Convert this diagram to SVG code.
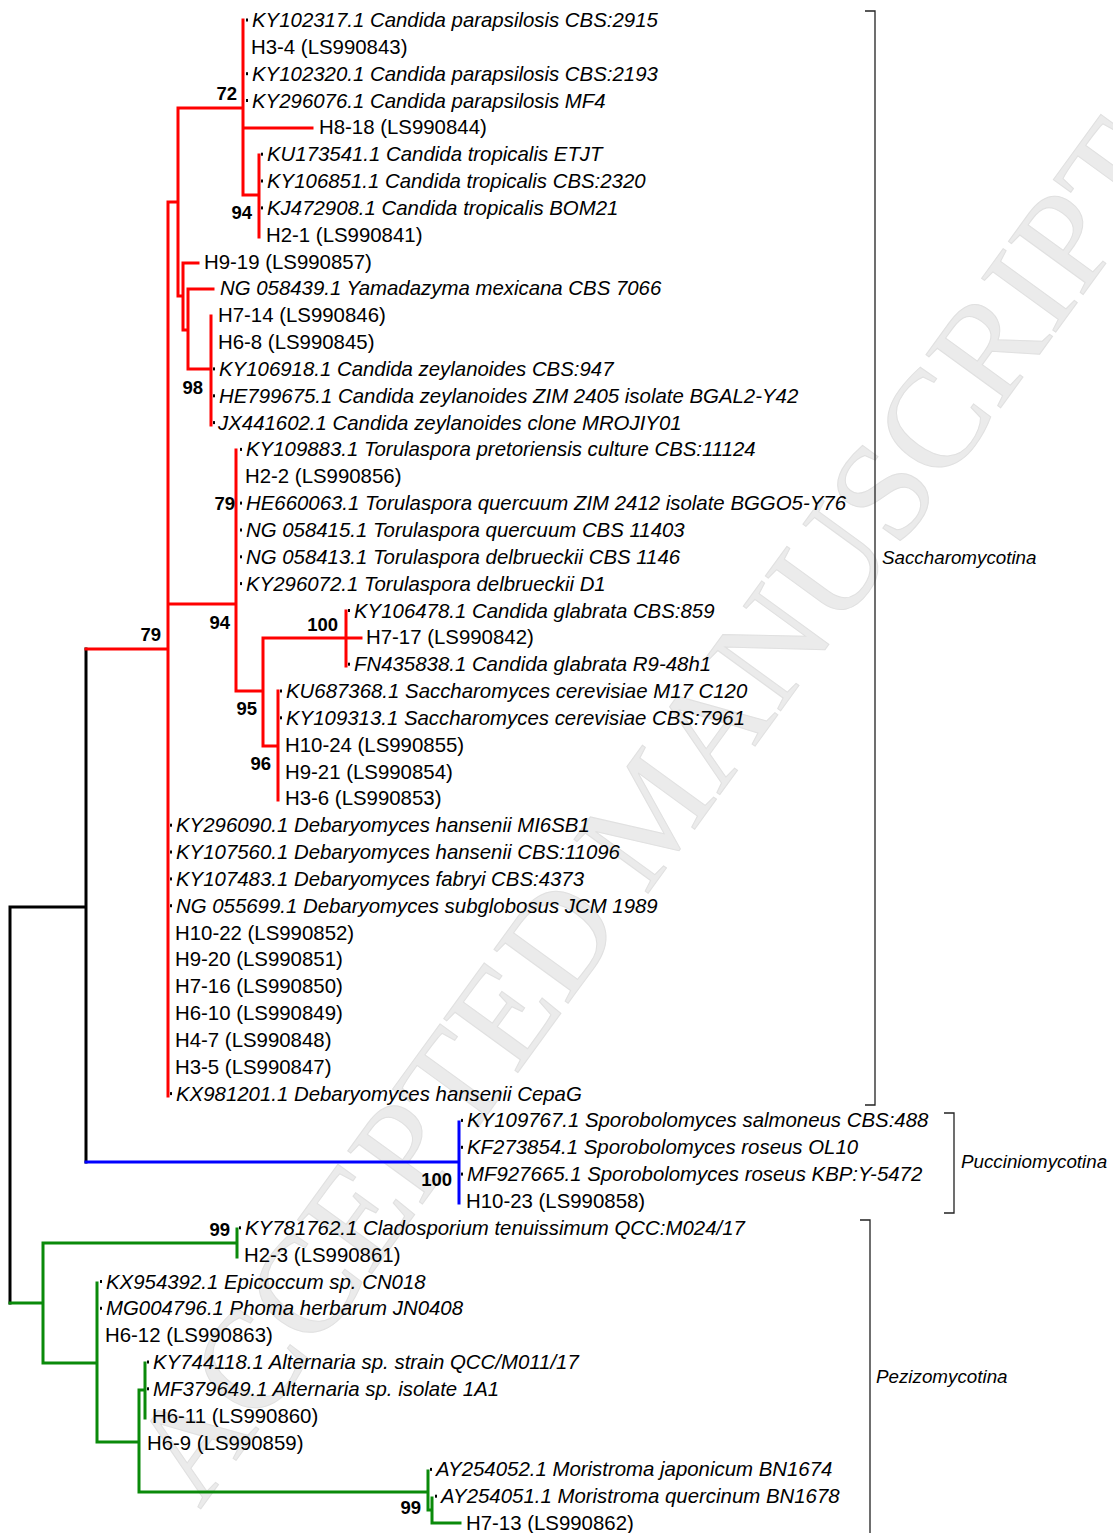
<svg xmlns="http://www.w3.org/2000/svg" width="1113" height="1533" viewBox="0 0 1113 1533">
<style>
.t{font-family:"Liberation Sans",Arial,sans-serif;font-size:20.4px;fill:#000}
.i{font-style:italic}
.s{font-family:"Liberation Sans",Arial,sans-serif;font-size:18.5px;font-weight:bold;fill:#000;text-anchor:end}
.g{font-family:"Liberation Sans",Arial,sans-serif;font-size:18.8px;font-style:italic;fill:#000}
.br{fill:none;stroke-width:3;stroke-linecap:square;stroke-linejoin:miter}
.red{stroke:#ff0000}.blk{stroke:#000}.blu{stroke:#0000ff}.grn{stroke:#0a8a0a}
.bk{fill:none;stroke:#222;stroke-width:1.3}
.wm{font-family:"Liberation Serif","Times New Roman",serif;font-size:140px;fill:#ebebeb;stroke:#e0e0e0;stroke-width:1}
</style>
<defs><rect id="d" x="0" y="-1.5" width="2" height="3" fill="#000"/></defs>
<rect width="1113" height="1533" fill="#fff"/>
<text class="wm" transform="translate(200,1510) rotate(-54)">ACCEPTED MANUSCRIPT</text>
<g id="connectors">
<path class="br blk" d="M10,907 V1303 M10,907 H86 M86,649 V1162"/>
<path class="br red" d="M86,649 H168 M168,202 V1096 M168,202 H178 M178,108 V296 M178,108 H243 M243,20 V195 M243,128 H312 M243,195 H259 M259,155 V237 M178,296 H183 M183,263 V330 M183,263 H198 M183,330 H188 M188,289 V369 M188,289 H213 M188,369 H211 M211,316 V425 M168,604 H236 M236,450 V691 M236,691 H263 M263,638 V746 M263,638 H346 M346,611 V666 M346,638 H361 M263,746 H278 M278,691 V800"/>
<path class="br blu" d="M86,1162 H459 M459,1122 V1203"/>
<path class="br grn" d="M10,1303 H43 M43,1243 V1363 M43,1243 H237 M237,1229 V1257 M43,1363 H97 M97,1283 V1442 M97,1442 H139 M139,1390 V1492 M139,1390 H145 M145,1363 V1418 M139,1492 H428 M428,1471 V1510 M428,1510 H432 M432,1498 V1523 M432,1523 H460"/>
</g>
<g id="tips">
<g id="tip1"><use href="#d" x="246" y="20"/><text class="t i" x="252" y="27">KY102317.1 Candida parapsilosis CBS:2915</text></g>
<g id="tip2"><text class="t" x="251" y="53.8">H3-4 (LS990843)</text></g>
<g id="tip3"><use href="#d" x="246" y="73.7"/><text class="t i" x="252" y="80.7">KY102320.1 Candida parapsilosis CBS:2193</text></g>
<g id="tip4"><use href="#d" x="246" y="100.5"/><text class="t i" x="252" y="107.5">KY296076.1 Candida parapsilosis MF4</text></g>
<g id="tip5"><text class="t" x="319" y="134.4">H8-18 (LS990844)</text></g>
<g id="tip6"><use href="#d" x="261" y="154.2"/><text class="t i" x="267" y="161.2">KU173541.1 Candida tropicalis ETJT</text></g>
<g id="tip7"><use href="#d" x="261" y="181"/><text class="t i" x="267" y="188">KY106851.1 Candida tropicalis CBS:2320</text></g>
<g id="tip8"><use href="#d" x="261" y="207.9"/><text class="t i" x="267" y="214.9">KJ472908.1 Candida tropicalis BOM21</text></g>
<g id="tip9"><text class="t" x="266" y="241.7">H2-1 (LS990841)</text></g>
<g id="tip10"><text class="t" x="204" y="268.6">H9-19 (LS990857)</text></g>
<g id="tip11"><text class="t i" x="220" y="295.4">NG 058439.1 Yamadazyma mexicana CBS 7066</text></g>
<g id="tip12"><text class="t" x="218" y="322.2">H7-14 (LS990846)</text></g>
<g id="tip13"><text class="t" x="218" y="349.1">H6-8 (LS990845)</text></g>
<g id="tip14"><use href="#d" x="213" y="368.9"/><text class="t i" x="219" y="375.9">KY106918.1 Candida zeylanoides CBS:947</text></g>
<g id="tip15"><use href="#d" x="213" y="395.8"/><text class="t i" x="219" y="402.8">HE799675.1 Candida zeylanoides ZIM 2405 isolate BGAL2-Y42</text></g>
<g id="tip16"><use href="#d" x="213" y="422.6"/><text class="t i" x="218" y="429.6">JX441602.1 Candida zeylanoides clone MROJIY01</text></g>
<g id="tip17"><use href="#d" x="240" y="449.4"/><text class="t i" x="246" y="456.4">KY109883.1 Torulaspora pretoriensis culture CBS:11124</text></g>
<g id="tip18"><text class="t" x="245" y="483.3">H2-2 (LS990856)</text></g>
<g id="tip19"><use href="#d" x="240" y="503.1"/><text class="t i" x="246" y="510.1">HE660063.1 Torulaspora quercuum ZIM 2412 isolate BGGO5-Y76</text></g>
<g id="tip20"><use href="#d" x="240" y="530"/><text class="t i" x="246" y="537">NG 058415.1 Torulaspora quercuum CBS 11403</text></g>
<g id="tip21"><use href="#d" x="240" y="556.8"/><text class="t i" x="246" y="563.8">NG 058413.1 Torulaspora delbrueckii CBS 1146</text></g>
<g id="tip22"><use href="#d" x="240" y="583.6"/><text class="t i" x="246" y="590.6">KY296072.1 Torulaspora delbrueckii D1</text></g>
<g id="tip23"><use href="#d" x="348" y="610.5"/><text class="t i" x="354" y="617.5">KY106478.1 Candida glabrata CBS:859</text></g>
<g id="tip24"><text class="t" x="366" y="644.3">H7-17 (LS990842)</text></g>
<g id="tip25"><use href="#d" x="348" y="664.2"/><text class="t i" x="354" y="671.2">FN435838.1 Candida glabrata R9-48h1</text></g>
<g id="tip26"><use href="#d" x="280" y="691"/><text class="t i" x="286" y="698">KU687368.1 Saccharomyces cerevisiae M17 C120</text></g>
<g id="tip27"><use href="#d" x="280" y="717.8"/><text class="t i" x="286" y="724.8">KY109313.1 Saccharomyces cerevisiae CBS:7961</text></g>
<g id="tip28"><text class="t" x="285" y="751.7">H10-24 (LS990855)</text></g>
<g id="tip29"><text class="t" x="285" y="778.5">H9-21 (LS990854)</text></g>
<g id="tip30"><text class="t" x="285" y="805.4">H3-6 (LS990853)</text></g>
<g id="tip31"><use href="#d" x="170" y="825.2"/><text class="t i" x="176" y="832.2">KY296090.1 Debaryomyces hansenii MI6SB1</text></g>
<g id="tip32"><use href="#d" x="170" y="852"/><text class="t i" x="176" y="859">KY107560.1 Debaryomyces hansenii CBS:11096</text></g>
<g id="tip33"><use href="#d" x="170" y="878.9"/><text class="t i" x="176" y="885.9">KY107483.1 Debaryomyces fabryi CBS:4373</text></g>
<g id="tip34"><use href="#d" x="170" y="905.7"/><text class="t i" x="176" y="912.7">NG 055699.1 Debaryomyces subglobosus JCM 1989</text></g>
<g id="tip35"><text class="t" x="175" y="939.6">H10-22 (LS990852)</text></g>
<g id="tip36"><text class="t" x="175" y="966.4">H9-20 (LS990851)</text></g>
<g id="tip37"><text class="t" x="175" y="993.2">H7-16 (LS990850)</text></g>
<g id="tip38"><text class="t" x="175" y="1020.1">H6-10 (LS990849)</text></g>
<g id="tip39"><text class="t" x="175" y="1046.9">H4-7 (LS990848)</text></g>
<g id="tip40"><text class="t" x="175" y="1073.8">H3-5 (LS990847)</text></g>
<g id="tip41"><use href="#d" x="170" y="1093.6"/><text class="t i" x="176" y="1100.6">KX981201.1 Debaryomyces hansenii CepaG</text></g>
<g id="tip42"><use href="#d" x="461" y="1120.4"/><text class="t i" x="467" y="1127.4">KY109767.1 Sporobolomyces salmoneus CBS:488</text></g>
<g id="tip43"><use href="#d" x="461" y="1147.3"/><text class="t i" x="467" y="1154.3">KF273854.1 Sporobolomyces roseus OL10</text></g>
<g id="tip44"><use href="#d" x="461" y="1174.1"/><text class="t i" x="467" y="1181.1">MF927665.1 Sporobolomyces roseus KBP:Y-5472</text></g>
<g id="tip45"><text class="t" x="466" y="1208">H10-23 (LS990858)</text></g>
<g id="tip46"><use href="#d" x="239" y="1227.8"/><text class="t i" x="245" y="1234.8">KY781762.1 Cladosporium tenuissimum QCC:M024/17</text></g>
<g id="tip47"><text class="t" x="244" y="1261.6">H2-3 (LS990861)</text></g>
<g id="tip48"><use href="#d" x="100" y="1281.5"/><text class="t i" x="106" y="1288.5">KX954392.1 Epicoccum sp. CN018</text></g>
<g id="tip49"><use href="#d" x="100" y="1308.3"/><text class="t i" x="106" y="1315.3">MG004796.1 Phoma herbarum JN0408</text></g>
<g id="tip50"><text class="t" x="105" y="1342.2">H6-12 (LS990863)</text></g>
<g id="tip51"><use href="#d" x="147" y="1362"/><text class="t i" x="153" y="1369">KY744118.1 Alternaria sp. strain QCC/M011/17</text></g>
<g id="tip52"><use href="#d" x="147" y="1388.8"/><text class="t i" x="153" y="1395.8">MF379649.1 Alternaria sp. isolate 1A1</text></g>
<g id="tip53"><text class="t" x="152" y="1422.7">H6-11 (LS990860)</text></g>
<g id="tip54"><text class="t" x="147" y="1449.5">H6-9 (LS990859)</text></g>
<g id="tip55"><use href="#d" x="430" y="1469.4"/><text class="t i" x="436" y="1476.4">AY254052.1 Moristroma japonicum BN1674</text></g>
<g id="tip56"><use href="#d" x="435" y="1496.2"/><text class="t i" x="441" y="1503.2">AY254051.1 Moristroma quercinum BN1678</text></g>
<g id="tip57"><text class="t" x="466" y="1530">H7-13 (LS990862)</text></g>
</g>
<g id="support">
<text class="s" x="237" y="100">72</text>
<text class="s" x="252" y="219">94</text>
<text class="s" x="203" y="394">98</text>
<text class="s" x="235" y="510">79</text>
<text class="s" x="230" y="629">94</text>
<text class="s" x="161" y="641">79</text>
<text class="s" x="338" y="631">100</text>
<text class="s" x="257" y="715">95</text>
<text class="s" x="271" y="770">96</text>
<text class="s" x="452" y="1186">100</text>
<text class="s" x="230" y="1236">99</text>
<text class="s" x="421" y="1514">99</text>
</g>
<g id="group-saccharomycotina"><path class="bk" d="M865,11 H875 V1105 H865"/><text class="g" x="882" y="564">Saccharomycotina</text></g>
<g id="group-pucciniomycotina"><path class="bk" d="M944,1113 H954 V1213 H944"/><text class="g" x="961" y="1168">Pucciniomycotina</text></g>
<g id="group-pezizomycotina"><path class="bk" d="M860,1220 H870 V1540"/><text class="g" x="876" y="1383">Pezizomycotina</text></g>
</svg>
